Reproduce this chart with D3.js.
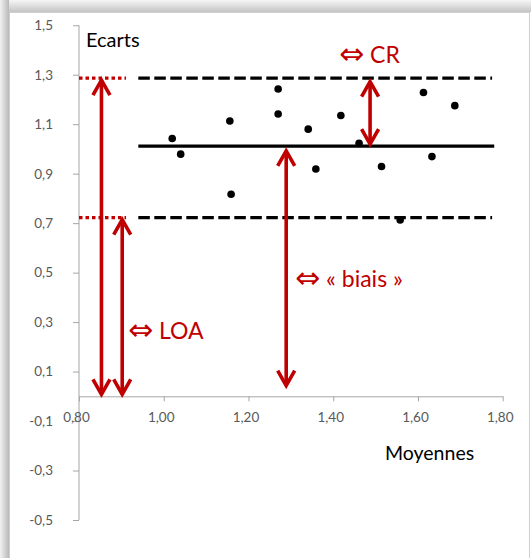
<!DOCTYPE html>
<html lang="fr">
<head>
<meta charset="utf-8">
<title>Ecarts / Moyennes</title>
<style>
  body { margin: 0; background: #fff; }
  svg { display: block; font-family: Lato, "Noto Sans", sans-serif; }
</style>
</head>
<body>
<svg></svg>
<script src="https://cdn.jsdelivr.net/npm/d3@7"></script>
<script>
// valeurs
var moyennes = [1.02, 1.04, 1.156, 1.159, 1.27, 1.27, 1.341, 1.359, 1.418, 1.461, 1.514, 1.558, 1.613, 1.633, 1.687];
var ecarts   = [1.042, 0.979, 1.113, 0.817, 1.242, 1.141, 1.08, 0.919, 1.135, 1.023, 0.929, 0.713, 1.228, 0.969, 1.175];
var biais = 1.011;
var limites = [1.286, 0.722];
var xTicks = [0.8, 1.0, 1.2, 1.4, 1.6, 1.8];
var yTicks = [-0.5, -0.3, -0.1, 0.1, 0.3, 0.5, 0.7, 0.9, 1.1, 1.3, 1.5];
// flèches rouges : [x, y départ, y arrivée]
var fleches = [[0.853, 0.0, 1.286], [0.902, 0.0, 0.722], [1.289, 0.035, 1.0], [1.487, 1.011, 1.28]];

var width = 531, height = 558;
var svg = d3.select('svg').attr('width', width).attr('height', height);

// cadre avec ombre
var defs = svg.append('defs');
var gTop = defs.append('linearGradient').attr('id', 'ombreHaut').attr('x1', 0).attr('y1', 0).attr('x2', 0).attr('y2', 1);
gTop.append('stop').attr('offset', '0%').attr('stop-color', '#f6f6f6');
gTop.append('stop').attr('offset', '100%').attr('stop-color', '#c4c4c4');
var gLeft = defs.append('linearGradient').attr('id', 'ombreGauche').attr('x1', 0).attr('y1', 0).attr('x2', 1).attr('y2', 0);
gLeft.append('stop').attr('offset', '0%').attr('stop-color', '#f2f2f2');
gLeft.append('stop').attr('offset', '100%').attr('stop-color', '#b8b8b8');

svg.append('rect').attr('x', 0).attr('y', 0).attr('width', width).attr('height', 12).attr('fill', 'url(#ombreHaut)');
svg.append('rect').attr('x', 0).attr('y', 0).attr('width', 9).attr('height', height).attr('fill', 'url(#ombreGauche)');
svg.append('rect').attr('x', 9.5).attr('y', 12.5).attr('width', 520).attr('height', height)
  .attr('fill', '#fff').attr('stroke', '#cfcfcf');

var x = d3.scaleLinear().domain([0.8, 1.8]).range([79, 502.7]);
var y = d3.scaleLinear().domain([-0.5, 1.5]).range([520, 25.25]);

function virgule(f) { return function(d) { return f(d).replace('.', ',').replace('−', '-'); }; }

// axes
var axeY = svg.append('g').attr('transform', 'translate(' + x(0.8) + ',0)')
  .call(d3.axisLeft(y).tickValues(yTicks).tickFormat(virgule(d3.format('.1f'))).tickSize(6).tickSizeOuter(0).tickPadding(20));
axeY.select('.domain').attr('d', 'M0,' + y(1.5) + 'V' + y(-0.5));
var axeX = svg.append('g').attr('transform', 'translate(0,' + y(0) + ')')
  .call(d3.axisBottom(x).tickValues(xTicks).tickFormat(virgule(d3.format('.2f'))).tickSize(5).tickSizeOuter(0).tickPadding(11));

svg.selectAll('.domain, .tick line').attr('stroke', '#a6a6a6').attr('stroke-width', 1);
svg.selectAll('.tick text').attr('fill', '#595959').attr('font-size', 13.5).attr('font-family', 'Lato, sans-serif');
axeX.selectAll('.tick text').attr('dx', -3);

// lignes de référence
svg.append('line').attr('x1', x(0.94)).attr('x2', x(1.78)).attr('y1', y(biais)).attr('y2', y(biais))
  .attr('stroke', '#000').attr('stroke-width', 3.3);
svg.selectAll('.limite').data(limites).enter().append('line').attr('class', 'limite')
  .attr('x1', x(0.94)).attr('x2', x(1.775)).attr('y1', function(d) { return y(d); }).attr('y2', function(d) { return y(d); })
  .attr('stroke', '#000').attr('stroke-width', 3.3).attr('stroke-dasharray', '11.5,4.5');
svg.selectAll('.pointille').data(limites).enter().append('line').attr('class', 'pointille')
  .attr('x1', x(0.8)).attr('x2', x(0.911)).attr('y1', function(d) { return y(d); }).attr('y2', function(d) { return y(d); })
  .attr('stroke', '#c00000').attr('stroke-width', 3.3).attr('stroke-dasharray', '3.5,3');

// points
svg.selectAll('.pt').data(moyennes).enter().append('circle').attr('class', 'pt')
  .attr('cx', function(d) { return x(d); })
  .attr('cy', function(d, i) { return y(ecarts[i]); })
  .attr('r', 3.8).attr('fill', '#000');

// flèches doubles
function tete(px, py, dir) {
  // dir = -1 pointe vers le haut, +1 vers le bas
  return 'M' + (px - 8.5) + ',' + (py - dir * 15) + 'L' + px + ',' + py + 'L' + (px + 8.5) + ',' + (py - dir * 15);
}
fleches.forEach(function(f) {
  var px = x(f[0]), yb = y(f[1]), yh = y(f[2]);
  var g = svg.append('g').attr('stroke', '#c00000').attr('fill', 'none').attr('stroke-width', 3.6);
  g.append('line').attr('x1', px).attr('x2', px).attr('y1', yb - 2).attr('y2', yh + 2);
  g.append('path').attr('d', tete(px, yh + 2, -1)).attr('stroke-linejoin', 'miter');
  g.append('path').attr('d', tete(px, yb - 2, 1)).attr('stroke-linejoin', 'miter');
});

// textes
svg.append('text').attr('x', 86).attr('y', 47).attr('font-size', 20).attr('fill', '#000').text('Ecarts');
svg.append('text').attr('x', 385).attr('y', 460).attr('font-size', 19.5).attr('fill', '#000').text('Moyennes');

var annotations = [
  { t: 'CR', x: 339, y: 63 },
  { t: '« biais »', x: 295, y: 287 },
  { t: 'LOA', x: 128, y: 339 }
];
annotations.forEach(function(a) {
  var t = svg.append('text').attr('x', a.x).attr('y', a.y).attr('fill', '#c00000').attr('font-size', 23);
  t.append('tspan').attr('font-family', '"DejaVu Sans", sans-serif').attr('font-size', 30).attr('dy', 1).text('\u21d4');
  t.append('tspan').attr('dy', -1).text(' ' + a.t);
});
</script>
</body>
</html>
